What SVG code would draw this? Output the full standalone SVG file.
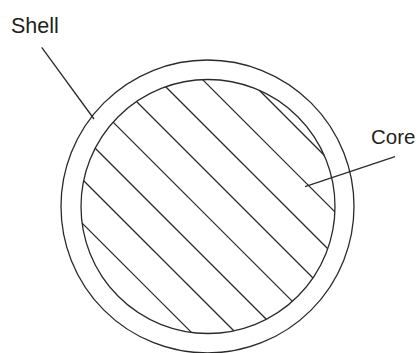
<svg xmlns="http://www.w3.org/2000/svg" width="419" height="353" viewBox="0 0 419 353">
<style>
.ln{fill:none;stroke:#2a2a2a;stroke-width:1.3}
.lbl{font-family:"Liberation Sans",Arial,sans-serif;fill:#231f20}
</style>
<rect width="419" height="353" fill="#fff"/>
<g id="shell">
<circle class="ln" cx="207.5" cy="206.5" r="146.5"/>
<text class="lbl" x="11" y="32.7" font-size="21.5">Shell</text>
</g>
<g id="core">
<circle class="ln" cx="208" cy="206.5" r="127"/>
<g class="ln">
<line x1="82.1" y1="223.1" x2="191.4" y2="332.4"/>
<line x1="83.7" y1="180.7" x2="233.8" y2="330.8"/>
<line x1="95.2" y1="148.2" x2="266.3" y2="319.3"/>
<line x1="113.1" y1="122.1" x2="292.4" y2="301.4"/>
<line x1="136.5" y1="101.5" x2="313" y2="278"/>
<line x1="165.7" y1="86.7" x2="327.8" y2="248.8"/>
<line x1="202.6" y1="79.6" x2="334.9" y2="211.9"/>
<line x1="259.3" y1="90.3" x2="324.2" y2="155.2"/>
</g>
<text class="lbl" x="371" y="144.3" font-size="20.5">Core</text>
</g>
<g id="connectors" class="ln">
<line x1="41.7" y1="47.3" x2="94" y2="119"/>
<line x1="395" y1="156.7" x2="305" y2="186.7"/>
</g>
</svg>
